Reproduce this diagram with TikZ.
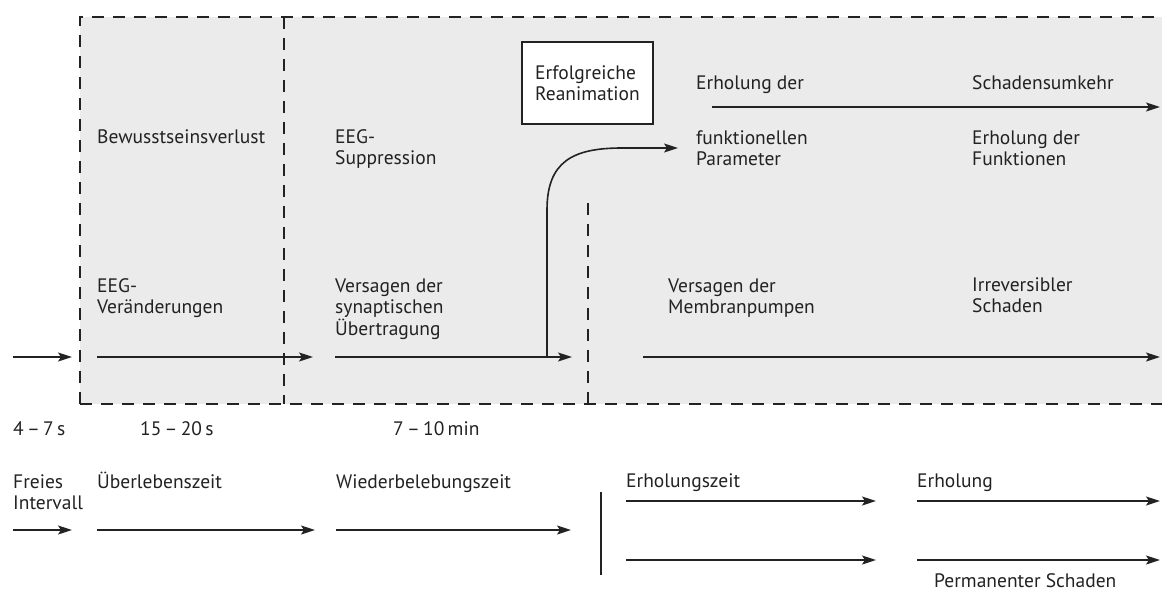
\documentclass[tikz,border=0pt]{standalone}
\usepackage{fontspec}
\setmainfont{PT Sans}
\usetikzlibrary{arrows.meta}
\definecolor{panel}{HTML}{EBEBEB}
\definecolor{ink}{HTML}{222222}
\tikzset{
  dashline/.style={draw=ink, line width=2pt, dash pattern=on 12pt off 9pt},
  arr/.style={draw=ink, line width=1.6pt, -{Stealth[length=14pt,width=9pt,inset=3pt]}},
  lbl/.style={anchor=base west, inner sep=0pt, align=left, text=ink,
    font=\fontsize{19.5}{21.5}\selectfont},
}
\begin{document}
\begin{tikzpicture}[x=1pt,y=-1pt]
\useasboundingbox (0,0) rectangle (1162,592);
% panel
\fill[panel] (80,17) rectangle (1162,404);
\draw[dashline] (80,404) -- (80,17) -- (1162,17);
\draw[dashline] (80,404) -- (1162,404);
\draw[dashline] (284,17) -- (284,404);
\draw[dashline] (588,203) -- (588,404);
% box
\node[draw=ink, fill=white, line width=1.3pt, minimum width=131pt, minimum height=82pt,
  align=left, text=ink, font=\fontsize{19.5}{21.5}\selectfont, inner sep=0pt] (reanim) at (587.5,83)
  {Erfolgreiche\\Reanimation};
% coordinates
\coordinate (a1s) at (13,357);  \coordinate (a1e) at (72,357);
\coordinate (a2s) at (97,357);  \coordinate (a2e) at (313,357);
\coordinate (a3s) at (335,357); \coordinate (a3e) at (572,357);
\coordinate (a4s) at (643,357); \coordinate (a4e) at (1160,357);
\coordinate (t1s) at (712,107); \coordinate (t1e) at (1160,107);
\coordinate (cs) at (547,357);  \coordinate (ce) at (678,148);
\coordinate (b1s) at (13,530);  \coordinate (b1e) at (72,530);
\coordinate (b2s) at (97,530);  \coordinate (b2e) at (315,530);
\coordinate (b3s) at (336,530); \coordinate (b3e) at (571,530);
\coordinate (r1s) at (626,501); \coordinate (r1e) at (876,501);
\coordinate (r2s) at (917,501); \coordinate (r2e) at (1160,501);
\coordinate (s1s) at (626,560); \coordinate (s1e) at (876,560);
\coordinate (s2s) at (917,560); \coordinate (s2e) at (1160,560);
\coordinate (vs) at (601,492);  \coordinate (ve) at (601,575);
% arrows
\foreach \p in {a1,a2,a3,a4,t1,b1,b2,b3,r1,r2,s1,s2}
  \draw[arr] (\p s) -- (\p e);
\draw[arr] (cs) -- (547,210) .. controls (547,162) and (572,148) .. (622,148) -- (ce);
\draw[draw=ink, line width=1.6pt] (vs) -- (ve);
% labels (anchor = baseline of the last line)
\node[lbl] (l1) at (97,143) {Bewusstseinsverlust};
\node[lbl] (l2) at (335,164.5) {EEG-\\Suppression};
\node[lbl] (l3) at (696,89) {Erholung der};
\node[lbl] (l4) at (972,89) {Schadensumkehr};
\node[lbl] (l5) at (696,165.5) {funktionellen\\Parameter};
\node[lbl] (l6) at (972,165.5) {Erholung der\\Funktionen};
\node[lbl] (l7) at (97,313.5) {EEG-\\Veränderungen};
\node[lbl] (l8) at (335,335) {Versagen der\\synaptischen\\Übertragung};
\node[lbl] (l9) at (668,313.5) {Versagen der\\Membranpumpen};
\node[lbl] (l10) at (972,312.5) {Irreversibler\\Schaden};
\node[lbl] (m1) at (13,435) {4\,–\,7\,s};
\node[lbl] (m2) at (140,435) {15\,–\,20\,s};
\node[lbl] (m3) at (393,435) {7\,–\,10\,min};
\node[lbl] (n1) at (13,509.5) {Freies\\Intervall};
\node[lbl] (n2) at (97,488) {Überlebenszeit};
\node[lbl] (n3) at (336,488) {Wiederbelebungszeit};
\node[lbl] (n4) at (626,487) {Erholungszeit};
\node[lbl] (n5) at (917,487) {Erholung};
\node[lbl] (n6) at (934,587) {Permanenter Schaden};
\end{tikzpicture}
\end{document}
